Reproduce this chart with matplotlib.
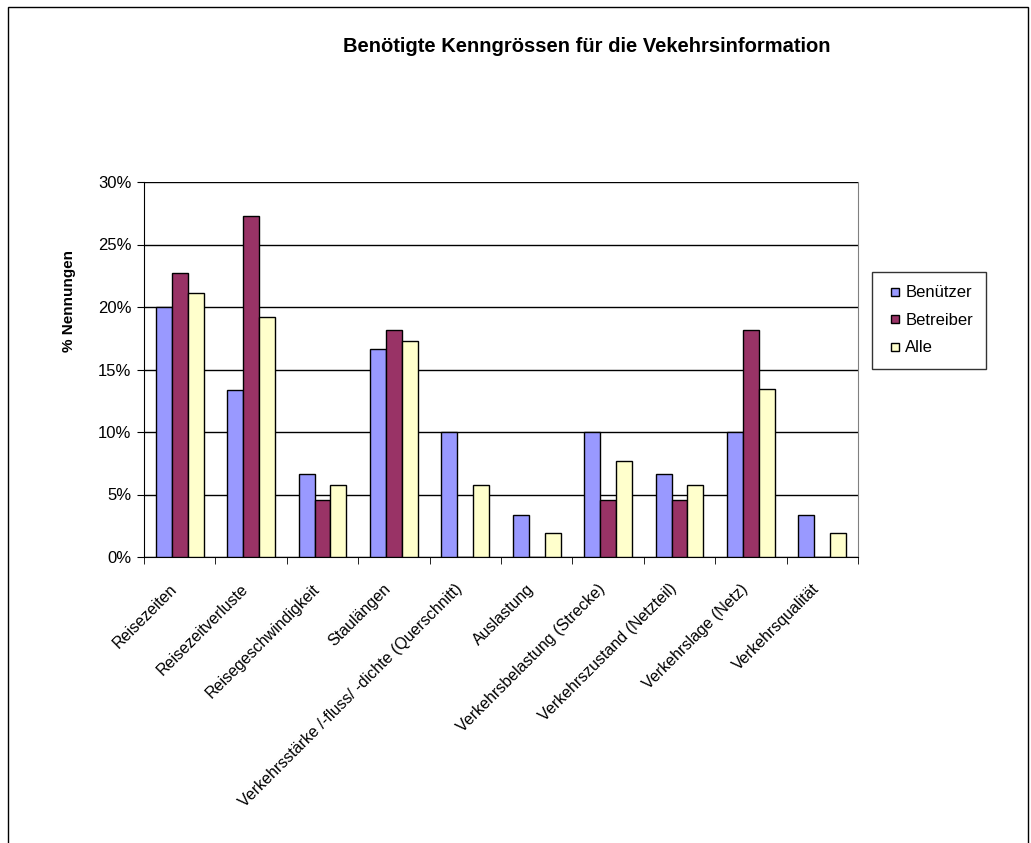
import numpy as np
import matplotlib.pyplot as plt
from matplotlib.patches import Rectangle
from matplotlib.lines import Line2D
from matplotlib.ticker import PercentFormatter

plt.rcParams['font.family'] = ['Liberation Sans', 'DejaVu Sans']

categories = ['Reisezeiten', 'Reisezeitverluste', 'Reisegeschwindigkeit', 'Staulängen',
              'Verkehrsstärke /-fluss/ -dichte (Querschnitt)', 'Auslastung',
              'Verkehrsbelastung (Strecke)', 'Verkehrszustand (Netzteil)',
              'Verkehrslage (Netz)', 'Verkehrsqualität']
benutzer = [20.0, 13.33, 6.67, 16.67, 10.0, 3.33, 10.0, 6.67, 10.0, 3.33]
betreiber = [22.73, 27.27, 4.55, 18.18, 0.0, 0.0, 4.55, 4.55, 18.18, 0.0]
alle = [21.15, 19.23, 5.77, 17.31, 5.77, 1.92, 7.69, 5.77, 13.46, 1.92]

series = [('Benützer', benutzer, '#9999ff'),
          ('Betreiber', betreiber, '#993366'),
          ('Alle', alle, '#ffffcc')]

fig = plt.figure(figsize=(10.31, 8.43), dpi=100)
# chart frame
fig.patches.append(Rectangle((8 / 1031, -0.05), 1020 / 1031, 1.05 - 7 / 843,
                             transform=fig.transFigure, fill=False,
                             edgecolor='black', linewidth=1.0))

ax = fig.add_axes([144 / 1031, 1 - 557 / 843, 714 / 1031, 375 / 843])

x = np.arange(len(categories))
w = 0.224
for i, (name, vals, col) in enumerate(series):
    ax.bar(x + (i - 1) * w, vals, width=w, color=col, edgecolor='black',
           linewidth=1.0, label=name, zorder=3)

ax.set_xlim(-0.5, len(categories) - 0.5)
ax.set_ylim(0, 30)
ax.set_yticks(np.arange(0, 31, 5))
ax.yaxis.set_major_formatter(PercentFormatter(decimals=0))
ax.grid(axis='y', color='black', linewidth=1.0, zorder=0)
ax.set_axisbelow(True)

ax.set_xticks(x)
ax.set_xticklabels(categories, rotation=45, ha='right', va='bottom',
                   rotation_mode='anchor', fontsize=11.5)
ax.tick_params(axis='x', which='major', length=0, pad=25)
ax.set_xticks(np.arange(-0.5, len(categories)), minor=True)
ax.tick_params(axis='x', which='minor', length=5, direction='out', color='black')
ax.tick_params(axis='y', length=5, direction='out', labelsize=12, pad=4)

ax.spines['top'].set_visible(False)
ax.spines['right'].set_color('#808080')
ax.spines['left'].set_color('black')
ax.spines['bottom'].set_color('black')

fig.text(69 / 1031, 1 - 301 / 843, '% Nennungen', rotation=90,
         ha='center', va='center', fontsize=11, fontweight='bold')
fig.text(587 / 1031, 1 - 47 / 843, 'Benötigte Kenngrössen für die Vekehrsinformation',
         ha='center', va='center', fontsize=14.5, fontweight='bold')

handles = [Line2D([], [], linestyle='none', marker='s', markersize=5.5,
                  markerfacecolor=col, markeredgecolor='black', markeredgewidth=1.0)
           for _, _, col in series]
leg = fig.legend(handles, [s[0] for s in series], loc='upper left',
                 bbox_to_anchor=(872 / 1031, 1 - 272 / 843),
                 frameon=True, fancybox=False, edgecolor='black', fontsize=12,
                 handlelength=1.2, handletextpad=0.0,
                 labelspacing=0.75, borderpad=0.8, borderaxespad=0)
leg.get_frame().set_linewidth(1.0)

fig.savefig('out.png', dpi=100, facecolor='white')
